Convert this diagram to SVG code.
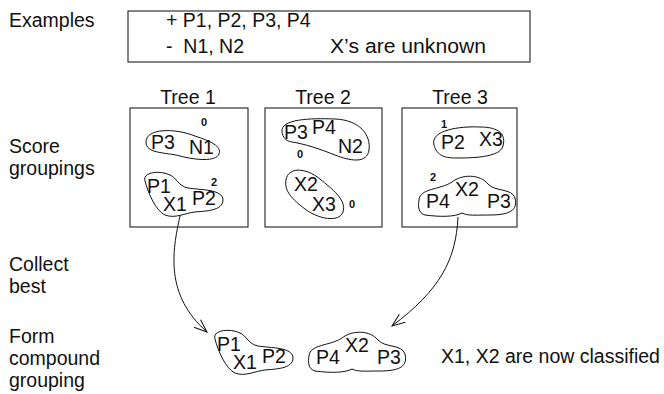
<svg xmlns="http://www.w3.org/2000/svg" width="664" height="394" viewBox="0 0 664 394">
  <style>
    text { font-family: "Liberation Sans", Arial, sans-serif; font-size: 19.5px; fill: #111; }
    .num { font-size: 11px; font-weight: bold; }
    .box { fill: none; stroke: #333; stroke-width: 1.2; }
    .blob { fill: none; stroke: #111; stroke-width: 1; }
    .edge { fill: none; stroke: #111; stroke-width: 1; }
    .mid { text-anchor: middle; }
  </style>
  <defs>
    <marker id="head" markerUnits="userSpaceOnUse" markerWidth="16" markerHeight="12" refX="13" refY="6" orient="auto" overflow="visible">
      <path d="M0,1 L13,6 L0,11" fill="none" stroke="#111" stroke-width="1"/>
    </marker>
    <!-- grouping outlines reused for the compound row -->
    <path id="blobP1X1P2" d="M145,181 C142,172 160,170 170,175 C177,178 178,186 188,188 C200,190 223,189 223,200 C223,211 205,211 195,212 C185,213 175,219 165,215 C156,211 148,193 145,181 Z"/>
    <path id="blobP4X2P3" d="M419,200 C420,188 440,190 452,182 C462,174 480,174 488,184 C495,192 512,188 515,198 C518,210 510,215 490,215 C475,215 468,216 462,213 C455,217 440,217 425,215 C418,213 418,206 419,200 Z"/>
  </defs>

  <!-- step labels -->
  <g id="steps">
    <text x="9" y="27">Examples</text>
    <text x="9" y="153">Score</text>
    <text x="9" y="175">groupings</text>
    <text x="9" y="271">Collect</text>
    <text x="9" y="293">best</text>
    <text x="9" y="343">Form</text>
    <text x="9" y="365">compound</text>
    <text x="9" y="387">grouping</text>
  </g>

  <!-- example set -->
  <g id="examples">
    <rect class="box" x="128" y="11" width="402" height="51"/>
    <text x="166" y="27" xml:space="preserve">+ P1, P2, P3, P4</text>
    <text x="166" y="53" xml:space="preserve">-  N1, N2</text>
    <text x="330" y="53" textLength="156" lengthAdjust="spacingAndGlyphs">X’s are unknown</text>
  </g>

  <!-- tree 1 -->
  <g id="tree1">
    <text class="mid" x="188" y="104">Tree 1</text>
    <rect class="box" x="130" y="108" width="118" height="119"/>
    <path class="blob" d="M146,142 C146,128 175,128 195,136 C210,141 222,146 219,154 C216,162 195,160 180,156 C165,152 146,154 146,142 Z"/>
    <text x="151" y="149">P3</text>
    <text x="189" y="154">N1</text>
    <text class="num" x="201" y="126">0</text>
    <use href="#blobP1X1P2" class="blob"/>
    <text x="147" y="193">P1</text>
    <text x="163" y="211">X1</text>
    <text x="192" y="205">P2</text>
    <text class="num" x="211" y="186">2</text>
  </g>

  <!-- tree 2 -->
  <g id="tree2">
    <text class="mid" x="323" y="104">Tree 2</text>
    <rect class="box" x="265" y="108" width="117" height="119"/>
    <path class="blob" d="M282,132 C280,119 310,118 335,119 C360,120 371,135 369,150 C367,164 350,161 335,155 C320,149 305,144 292,142 C285,141 283,137 282,132 Z"/>
    <text x="284" y="139">P3</text>
    <text x="312" y="134">P4</text>
    <text x="338" y="153">N2</text>
    <text class="num" x="297" y="158">0</text>
    <path class="blob" d="M286,180 C288,167 305,167 320,179 C332,189 347,200 343,212 C339,223 318,219 305,209 C292,199 284,191 286,180 Z"/>
    <text x="294" y="191">X2</text>
    <text x="312" y="211">X3</text>
    <text class="num" x="349" y="208">0</text>
  </g>

  <!-- tree 3 -->
  <g id="tree3">
    <text class="mid" x="460" y="104">Tree 3</text>
    <rect class="box" x="402" y="108" width="115" height="119"/>
    <path class="blob" d="M434,145 C430,130 460,126 480,127 C500,127 506,135 503,146 C500,158 470,158 455,158 C440,158 436,152 434,145 Z"/>
    <text x="441" y="149">P2</text>
    <text x="479" y="146">X3</text>
    <text class="num" x="441" y="128">1</text>
    <use href="#blobP4X2P3" class="blob"/>
    <text x="426" y="208">P4</text>
    <text x="455" y="196">X2</text>
    <text x="487" y="208">P3</text>
    <text class="num" x="430" y="181">2</text>
  </g>

  <!-- compound grouping -->
  <g id="compound">
    <use href="#blobP1X1P2" class="blob" transform="translate(70 158)"/>
    <text x="217" y="351">P1</text>
    <text x="233" y="369">X1</text>
    <text x="262" y="363">P2</text>
    <use href="#blobP4X2P3" class="blob" transform="translate(-110 156)"/>
    <text x="316" y="364">P4</text>
    <text x="345" y="352">X2</text>
    <text x="377" y="364">P3</text>
  </g>

  <g id="note">
    <text x="441" y="363">X1, X2 are now classified</text>
  </g>

  <!-- connectors -->
  <g id="connectors">
    <path class="edge" d="M180,216 C172,252 165,295 207,332" marker-end="url(#head)"/>
    <path class="edge" d="M458,217 C456,260 440,290 392,326" marker-end="url(#head)"/>
  </g>
</svg>
